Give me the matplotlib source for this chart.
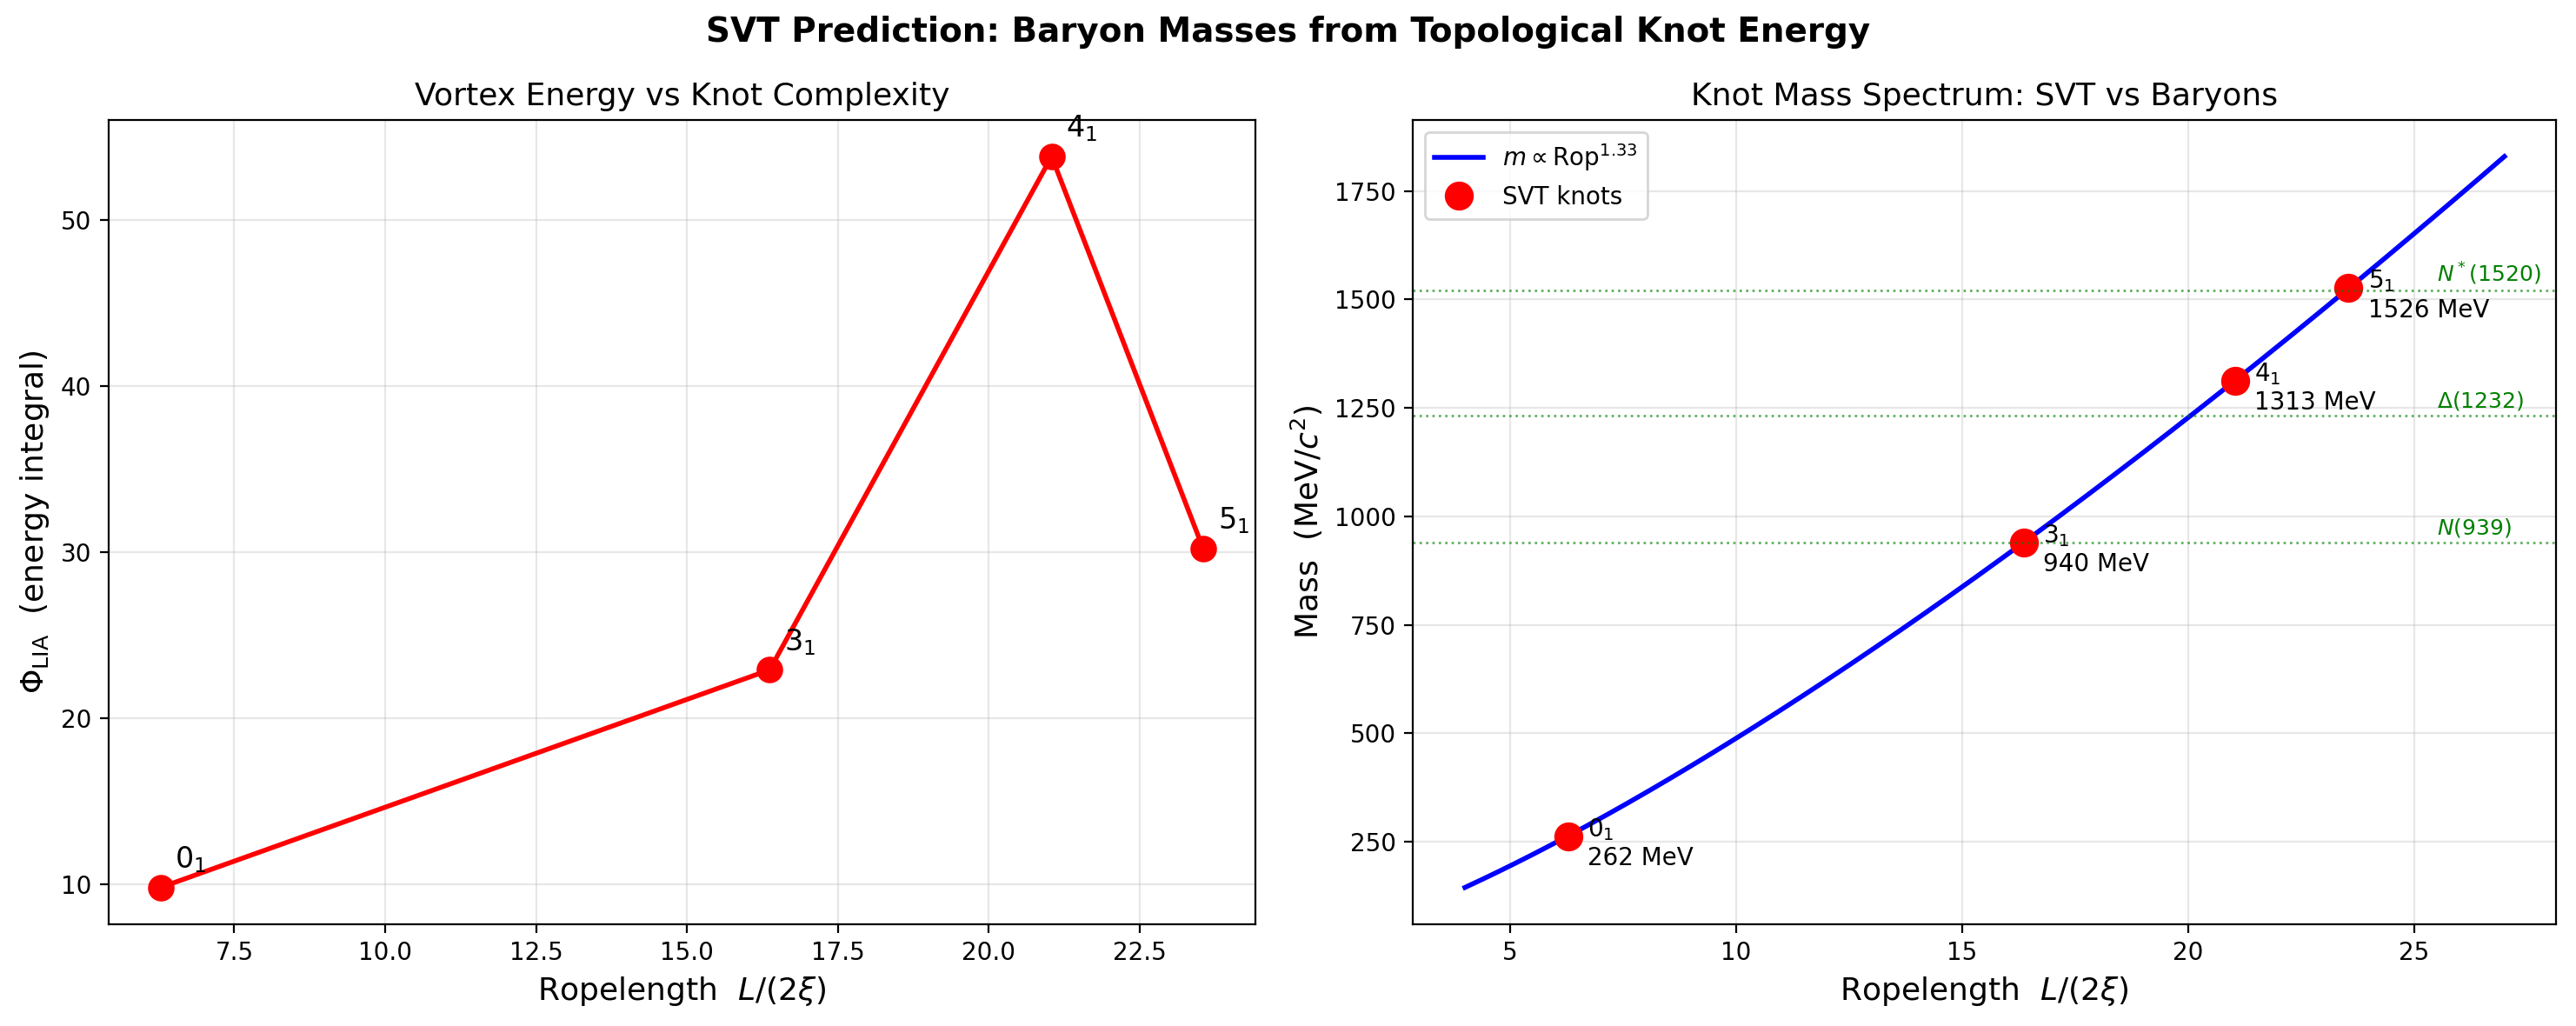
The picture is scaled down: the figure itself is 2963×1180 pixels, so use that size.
import numpy as np
import matplotlib.pyplot as plt

# knot data
knots = ["0_1", "3_1", "4_1", "5_1"]
ropelength = [6.28, 16.37, 21.04, 23.55]
energy = [9.8, 22.9, 53.8, 30.2]
mass = [262, 940, 1313, 1526]

# model curve m ~ Rop^1.33, normalisation from least squares on the knots
exponent = 1.33
rop_range = (4.0, 27.0)

# reference baryons
baryon_labels = [r"$N(939)$", r"$\Delta(1232)$", r"$N^*(1520)$"]
baryon_mass = [939, 1232, 1520]

fig = plt.figure(figsize=(14.815, 5.9), dpi=200)
ax1 = fig.add_axes([0.0421, 0.0994, 0.4452, 0.7837])
ax2 = fig.add_axes([0.5485, 0.0994, 0.4439, 0.7837])

# left panel
ax1.plot(ropelength, energy, 'o-', color='red', lw=2, markersize=10)
for name, x, e in zip(knots, ropelength, energy):
    ax1.annotate(f"${name}$", (x, e), xytext=(6, 8), textcoords='offset points', fontsize=12)
ax1.set_xlabel(r"Ropelength  $L/(2\xi)$", fontsize=13)
ax1.set_ylabel(r"$\Phi_{\rm LIA}$  (energy integral)", fontsize=13)
ax1.set_title("Vortex Energy vs Knot Complexity", fontsize=13)
ax1.grid(alpha=0.3)

# right panel
rk = np.array(ropelength) ** exponent
C = np.sum(np.array(mass) * rk) / np.sum(rk ** 2)
r = np.linspace(rop_range[0], rop_range[1], 300)
ax2.plot(r, C * r ** exponent, color='blue', lw=2, label=rf"$m \propto \mathrm{{Rop}}^{{{exponent}}}$")
ax2.plot(ropelength, mass, 'o', color='red', markersize=11, label="SVT knots")
for name, x, m in zip(knots, ropelength, mass):
    ax2.annotate(f"${name}$\n{m} MeV", (x, m), xytext=(8, -12), textcoords='offset points', fontsize=10)
for lab, bm in zip(baryon_labels, baryon_mass):
    ax2.axhline(bm, color='green', ls=':', lw=1, alpha=0.6)
    ax2.text(25.5, bm + 8, lab, color='green', fontsize=9, va='bottom')
ax2.set_xlabel(r"Ropelength  $L/(2\xi)$", fontsize=13)
ax2.set_ylabel(r"Mass  (MeV/$c^2$)", fontsize=13)
ax2.set_title("Knot Mass Spectrum: SVT vs Baryons", fontsize=13)
ax2.legend(loc='upper left', fontsize=10)
ax2.grid(alpha=0.3)

fig.suptitle("SVT Prediction: Baryon Masses from Topological Knot Energy", fontsize=14, fontweight='bold', y=0.985)
fig.savefig("out.png", dpi=200)
